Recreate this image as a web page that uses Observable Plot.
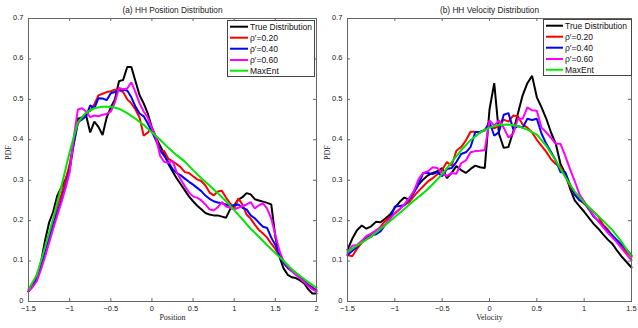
<!DOCTYPE html>
<html><head><meta charset="utf-8">
<script src="https://cdn.jsdelivr.net/npm/d3@7"></script>
<script src="https://cdn.jsdelivr.net/npm/@observablehq/plot@0.6"></script>
<style>
body{margin:0;background:#fff;}
#wrap{position:relative;width:638px;height:328px;overflow:hidden;background:#fff;}
.panel{position:absolute;top:0;}
</style>
</head><body>
<div id="wrap"></div>
<script>
// ---------- Data ----------
const seriesNames = ["True Distribution", "ρ′=0.20", "ρ′=0.40", "ρ′=0.60", "MaxEnt"];
const seriesColors = ["#000000", "#ff0000", "#0000ff", "#ff00ff", "#00e600"];

const xTicksPos = [-1.5, -1, -0.5, 0, 0.5, 1, 1.5, 2];
const xTicksVel = [-1.5, -1, -0.5, 0, 0.5, 1, 1.5];
const yTicks = [0, 0.1, 0.2, 0.3, 0.4, 0.5, 0.6, 0.7];

// Position panel: x grid -1.5 .. 2 step 0.05
const posX = d3.range(71).map(i => +(-1.5 + i * 0.05).toFixed(2));
const posTrue = [0.025,0.042,0.06,0.095,0.15,0.195,0.222,0.262,0.283,0.302,0.33,0.40,0.452,0.455,0.46,0.418,0.445,0.432,0.412,0.455,0.48,0.50,0.545,0.548,0.58,0.58,0.545,0.51,0.49,0.465,0.43,0.405,0.385,0.365,0.34,0.322,0.305,0.29,0.275,0.26,0.248,0.237,0.228,0.219,0.215,0.213,0.213,0.21,0.207,0.228,0.238,0.252,0.258,0.268,0.265,0.253,0.25,0.247,0.244,0.24,0.16,0.11,0.082,0.066,0.06,0.058,0.052,0.045,0.03,0.02,0.02];
const posR20 = [0.025,0.04,0.065,0.09,0.125,0.165,0.2,0.235,0.265,0.3,0.34,0.39,0.44,0.455,0.465,0.472,0.488,0.51,0.514,0.518,0.52,0.524,0.524,0.518,0.5,0.49,0.475,0.455,0.41,0.418,0.43,0.405,0.373,0.372,0.353,0.347,0.34,0.332,0.32,0.318,0.31,0.302,0.298,0.287,0.27,0.262,0.272,0.274,0.257,0.243,0.23,0.255,0.24,0.215,0.205,0.19,0.177,0.168,0.158,0.143,0.13,0.112,0.1,0.088,0.078,0.07,0.062,0.05,0.042,0.035,0.028];
const posR40 = [0.025,0.038,0.055,0.085,0.12,0.155,0.19,0.22,0.25,0.285,0.325,0.39,0.445,0.45,0.458,0.485,0.478,0.503,0.502,0.498,0.515,0.518,0.522,0.524,0.522,0.505,0.482,0.465,0.458,0.44,0.42,0.398,0.373,0.36,0.345,0.328,0.318,0.312,0.304,0.296,0.289,0.281,0.273,0.262,0.254,0.248,0.245,0.243,0.24,0.236,0.238,0.24,0.232,0.228,0.213,0.206,0.195,0.185,0.182,0.158,0.14,0.115,0.095,0.083,0.075,0.067,0.06,0.05,0.04,0.033,0.026];
const posR60 = [0.025,0.036,0.05,0.078,0.11,0.145,0.18,0.213,0.245,0.28,0.32,0.405,0.475,0.478,0.47,0.456,0.46,0.458,0.462,0.464,0.47,0.492,0.528,0.525,0.527,0.542,0.518,0.49,0.47,0.455,0.428,0.405,0.36,0.345,0.343,0.348,0.32,0.302,0.285,0.27,0.26,0.257,0.25,0.24,0.228,0.225,0.233,0.246,0.235,0.232,0.228,0.232,0.236,0.24,0.246,0.23,0.238,0.243,0.23,0.205,0.165,0.125,0.1,0.087,0.076,0.066,0.057,0.048,0.038,0.03,0.025];
// MaxEnt: x grid -1.5 .. 2 step 0.1
const posMaxX = d3.range(36).map(i => +(-1.5 + i * 0.1).toFixed(1));
const posMaxEnt = [0.03,0.065,0.134,0.205,0.285,0.37,0.443,0.467,0.478,0.482,0.482,0.477,0.466,0.452,0.437,0.418,0.4,0.38,0.362,0.346,0.325,0.305,0.287,0.268,0.248,0.226,0.203,0.18,0.16,0.139,0.12,0.1,0.08,0.063,0.048,0.034];

// Velocity panel: x grid -1.5 .. 1.5 step 0.05
const velX = d3.range(61).map(i => +(-1.5 + i * 0.05).toFixed(2));
const velTrue = [0.128,0.155,0.176,0.188,0.18,0.186,0.197,0.196,0.205,0.215,0.232,0.246,0.257,0.252,0.272,0.289,0.302,0.312,0.318,0.322,0.33,0.305,0.318,0.335,0.325,0.318,0.328,0.336,0.332,0.33,0.475,0.54,0.415,0.38,0.382,0.42,0.465,0.51,0.54,0.558,0.505,0.48,0.452,0.418,0.39,0.34,0.316,0.28,0.25,0.236,0.222,0.207,0.192,0.18,0.166,0.153,0.142,0.125,0.11,0.097,0.084];
const velR20 = [0.115,0.112,0.13,0.145,0.155,0.16,0.172,0.185,0.2,0.21,0.218,0.228,0.24,0.245,0.26,0.273,0.285,0.297,0.305,0.315,0.325,0.345,0.336,0.373,0.382,0.398,0.42,0.42,0.418,0.425,0.435,0.428,0.435,0.45,0.445,0.46,0.458,0.438,0.43,0.418,0.4,0.385,0.37,0.352,0.34,0.334,0.31,0.285,0.264,0.252,0.242,0.232,0.222,0.21,0.19,0.178,0.162,0.148,0.134,0.122,0.11];
const velR40 = [0.115,0.125,0.135,0.148,0.16,0.165,0.166,0.174,0.19,0.205,0.235,0.236,0.238,0.252,0.268,0.29,0.318,0.318,0.315,0.32,0.31,0.328,0.33,0.345,0.365,0.369,0.382,0.419,0.42,0.423,0.444,0.41,0.419,0.462,0.466,0.427,0.434,0.43,0.452,0.449,0.452,0.415,0.39,0.37,0.349,0.32,0.32,0.29,0.265,0.25,0.245,0.228,0.21,0.2,0.186,0.174,0.163,0.151,0.14,0.128,0.114];
const velR60 = [0.12,0.138,0.14,0.15,0.162,0.168,0.176,0.183,0.19,0.205,0.218,0.228,0.24,0.255,0.272,0.302,0.318,0.322,0.332,0.33,0.318,0.31,0.318,0.316,0.342,0.349,0.369,0.372,0.373,0.375,0.448,0.435,0.448,0.43,0.406,0.415,0.452,0.452,0.48,0.473,0.472,0.43,0.418,0.405,0.39,0.39,0.36,0.328,0.298,0.265,0.248,0.23,0.213,0.198,0.184,0.17,0.158,0.145,0.13,0.116,0.102];
// MaxEnt: x grid -1.5 .. 1.5 step 0.1
const velMaxX = d3.range(31).map(i => +(-1.5 + i * 0.1).toFixed(1));
const velMaxEnt = [0.123,0.138,0.153,0.17,0.189,0.209,0.229,0.249,0.268,0.29,0.315,0.345,0.374,0.399,0.418,0.43,0.437,0.438,0.434,0.425,0.413,0.385,0.348,0.308,0.272,0.245,0.222,0.2,0.176,0.146,0.111];

// ---------- Build ----------
const fmt = d => (d < 0 ? "\u2212" : "") + String(Math.abs(d));
function toRows(xs, ys, s) { return xs.map((x, i) => ({x, y: ys[i], s})); }

function panel({left, width, mr, xDomain, xTicks, xs, series, maxX, maxY, title, xLabel}) {
  const rows = [];
  series.forEach((ys, k) => rows.push(...toRows(xs, ys, k)));
  rows.push(...toRows(maxX, maxY, 4));
  const [x0, x1] = xDomain;
  const tickLenX = (x1 - x0) * 3 / (width - 28 - mr);
  const tickLenY = 0.7 * 3 / 283;
  const sans = "'Liberation Sans', Arial, Helvetica, sans-serif";
  const serif = "'Liberation Serif', 'Times New Roman', serif";
  const p = Plot.plot({
    width, height: 328,
    marginLeft: 28, marginRight: mr, marginTop: 18, marginBottom: 27,
    x: {domain: xDomain},
    y: {domain: [0, 0.7]},
    style: {background: "#fff"},
    marks: [
      ...[0, 1, 2, 3, 4].map(k => Plot.line(rows.filter(r => r.s === k), {
        x: "x", y: "y", stroke: seriesColors[k], strokeWidth: 2, strokeLinejoin: "miter", curve: "linear"
      })),
      Plot.frame({stroke: "#666", strokeWidth: 1}),
      Plot.ruleX(xTicks, {y1: 0, y2: tickLenY, stroke: "#666"}),
      Plot.ruleX(xTicks, {y1: 0.7, y2: 0.7 - tickLenY, stroke: "#666"}),
      Plot.ruleY(yTicks, {x1: x0, x2: x0 + tickLenX, stroke: "#666"}),
      Plot.ruleY(yTicks, {x1: x1, x2: x1 - tickLenX, stroke: "#666"}),
      Plot.axisX({ticks: xTicks, tickFormat: fmt, tickSize: 0, tickPadding: 4.5, label: null, fontSize: 7.5, fontFamily: sans, fill: "#222"}),
      Plot.axisY({ticks: yTicks, tickFormat: fmt, tickSize: 0, tickPadding: 5, dy: -1, label: null, fontSize: 7.5, fontFamily: sans, fill: "#222"}),
      Plot.text([title], {frameAnchor: "top", dy: -11, fontSize: 8.3, fontFamily: sans, fill: "#222"}),
      Plot.text([xLabel], {frameAnchor: "bottom", dy: 18.5, fontSize: 8, fontFamily: serif, fill: "#222"}),
      Plot.text(["PDF"], {frameAnchor: "left", dx: -20, rotate: -90, fontSize: 8, fontFamily: serif, fill: "#222"})
    ]
  });
  const d = document.createElement("div");
  d.className = "panel";
  d.style.left = left + "px";
  d.appendChild(p);
  return d;
}

function legend(left, top, w, h, lineX0, lineX1, textX) {
  const ns = "http://www.w3.org/2000/svg";
  const svg = document.createElementNS(ns, "svg");
  svg.setAttribute("width", w); svg.setAttribute("height", h);
  svg.style.position = "absolute"; svg.style.left = left + "px"; svg.style.top = top + "px";
  const rect = document.createElementNS(ns, "rect");
  rect.setAttribute("x", 0.5); rect.setAttribute("y", 0.5);
  rect.setAttribute("width", w - 1); rect.setAttribute("height", h - 1);
  rect.setAttribute("fill", "#fff"); rect.setAttribute("stroke", "#444");
  svg.appendChild(rect);
  const rowsY = [6.7, 17.7, 28.7, 40, 50.7];
  seriesNames.forEach((name, i) => {
    const ln = document.createElementNS(ns, "line");
    ln.setAttribute("x1", lineX0); ln.setAttribute("x2", lineX1);
    ln.setAttribute("y1", rowsY[i]); ln.setAttribute("y2", rowsY[i]);
    ln.setAttribute("stroke", seriesColors[i]); ln.setAttribute("stroke-width", 2);
    svg.appendChild(ln);
    const t = document.createElementNS(ns, "text");
    t.setAttribute("x", textX); t.setAttribute("y", rowsY[i]);
    t.setAttribute("dy", "0.35em");
    t.setAttribute("font-size", "8.5");
    t.setAttribute("font-family", "'Liberation Sans', Arial, sans-serif");
    t.setAttribute("fill", "#111");
    t.textContent = name;
    svg.appendChild(t);
  });
  return svg;
}

const wrap = document.getElementById("wrap");
wrap.appendChild(panel({
  left: 0, width: 319, mr: 3, xDomain: [-1.5, 2], xTicks: xTicksPos, xs: posX,
  series: [posTrue, posR20, posR40, posR60], maxX: posMaxX, maxY: posMaxEnt,
  title: "(a) HH Position Distribution", xLabel: "Position"
}));
wrap.appendChild(panel({
  left: 319, width: 319, mr: 7, xDomain: [-1.5, 1.5], xTicks: xTicksVel, xs: velX,
  series: [velTrue, velR20, velR40, velR60], maxX: velMaxX, maxY: velMaxEnt,
  title: "(b) HH Velocity Distribution", xLabel: "Velocity"
}));
wrap.appendChild(legend(227, 20, 88, 57, 3, 21, 23));
wrap.appendChild(legend(543, 19, 89, 57, 3, 20, 22));
</script>
</body></html>
